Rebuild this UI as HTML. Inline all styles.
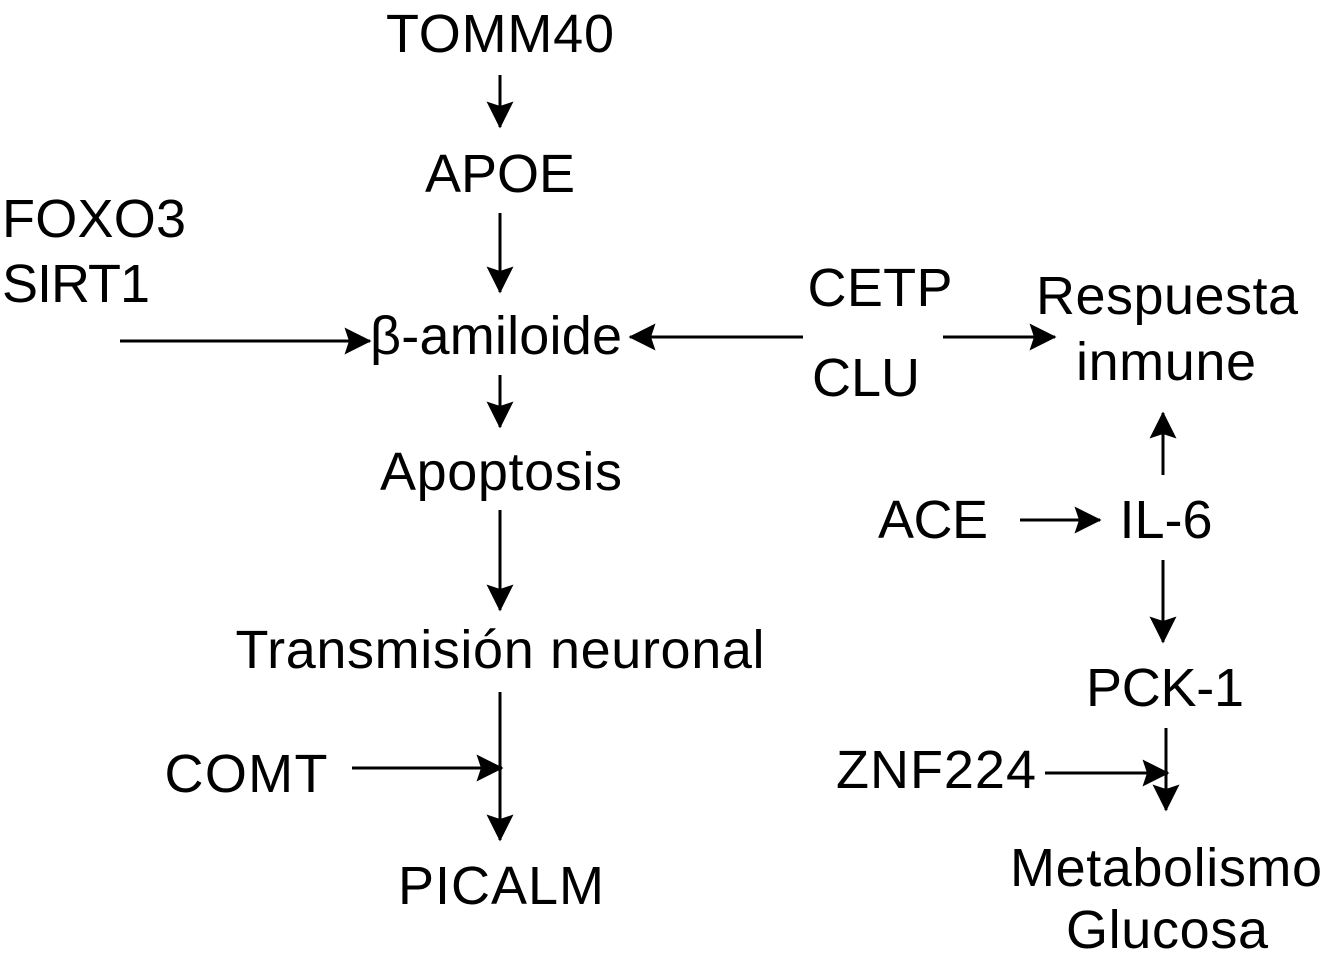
<!DOCTYPE html>
<html><head><meta charset="utf-8"><style>
body{margin:0;background:#fff;}
svg{display:block}
text{font-family:"Liberation Sans",Arial,sans-serif;font-size:54px;fill:#000}
</style></head><body>
<svg width="1326" height="979" viewBox="0 0 1326 979" xmlns="http://www.w3.org/2000/svg">
<defs><marker id="a" markerWidth="9" markerHeight="9" refX="8.5" refY="4.5" orient="auto" markerUnits="strokeWidth"><path d="M0,0 L9,4.5 L0,9 L1.5,4.5 Z" fill="#000"/></marker></defs>
<g stroke="#000" stroke-width="3" marker-end="url(#a)">
<line x1="500" y1="75" x2="500" y2="127"/>
<line x1="500" y1="213" x2="500" y2="292"/>
<line x1="120" y1="341" x2="370" y2="341"/>
<line x1="803" y1="337" x2="630" y2="337"/>
<line x1="943" y1="337" x2="1055" y2="337"/>
<line x1="500" y1="375" x2="500" y2="427"/>
<line x1="500" y1="510" x2="500" y2="610"/>
<line x1="1163" y1="475" x2="1163" y2="413"/>
<line x1="1020" y1="520" x2="1100" y2="520"/>
<line x1="1163" y1="560" x2="1163" y2="642"/>
<line x1="500" y1="692" x2="500" y2="840"/>
<line x1="352" y1="768" x2="502" y2="768"/>
<line x1="1166" y1="728" x2="1166" y2="810"/>
<line x1="1045" y1="773" x2="1168" y2="773"/>
</g>
<text x="500" y="52" text-anchor="middle" textLength="228">TOMM40</text>
<text x="500" y="192" text-anchor="middle" textLength="150">APOE</text>
<text x="2" y="237" textLength="184">FOXO3</text>
<text x="2" y="302" textLength="148">SIRT1</text>
<text x="496" y="354" text-anchor="middle" textLength="252">β-amiloide</text>
<text x="880" y="306" text-anchor="middle" textLength="145">CETP</text>
<text x="866" y="396" text-anchor="middle" textLength="108">CLU</text>
<text x="1167" y="314" text-anchor="middle" textLength="262">Respuesta</text>
<text x="1166" y="380" text-anchor="middle" textLength="180">inmune</text>
<text x="501" y="490" text-anchor="middle" textLength="242">Apoptosis</text>
<text x="933" y="538" text-anchor="middle" textLength="110">ACE</text>
<text x="1166" y="538" text-anchor="middle" textLength="93">IL-6</text>
<text x="500" y="668" text-anchor="middle" textLength="529">Transmisión neuronal</text>
<text x="1165" y="706" text-anchor="middle" textLength="158">PCK-1</text>
<text x="246" y="792" text-anchor="middle" textLength="163">COMT</text>
<text x="936" y="788" text-anchor="middle" textLength="200">ZNF224</text>
<text x="501" y="904" text-anchor="middle" textLength="206">PICALM</text>
<text x="1166" y="886" text-anchor="middle" textLength="312">Metabolismo</text>
<text x="1167" y="948" text-anchor="middle" textLength="202">Glucosa</text>
</svg>
</body></html>
